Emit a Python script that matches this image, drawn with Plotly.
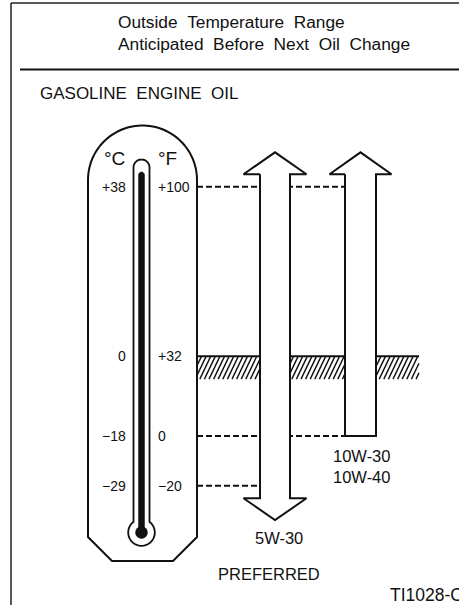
import numpy as np
import plotly.graph_objects as go

# ---------------- data ----------------
title_lines = ["Outside Temperature Range", "Anticipated Before Next Oil Change"]
section_title = "GASOLINE ENGINE OIL"
fahrenheit_levels = [100, 32, 0, -20]
fahrenheit_labels = ["+100", "+32", "0", "\u221220"]
celsius_labels = ["+38", "0", "\u221218", "\u221229"]
oil_grades = ["5W-30", "10W-30<br>10W-40"]
grade_low_f = [-20, 0]
grade_high_f = [100, 100]
grade_open_low = [True, False]
grade_open_high = [True, True]
freezing_f = 32
preferred_label = "PREFERRED"
figure_id = "TI1028-C"

# ---------------- layout constants ----------------
W, H = 459, 605
PX_PER_F = 2.492          # vertical scale of the temperature axis
ZERO_PX = 435.9           # pixel row of 0 °F
Y_RANGE = [(ZERO_PX - H) / PX_PER_F, ZERO_PX / PX_PER_F]
FONT = "Liberation Sans, Arial, Helvetica, sans-serif"
INK = "#111111"
SP = "\u00a0\u00a0"

THERMO_RIGHT = 197
grade_cx = [275, 360.5]
grade_hw = [15, 15.5]
grade_head_hw = [31.5, 31]
HEAD_F = 8.8
EXT_F = 5.0


def yp(py):
    return 1 - py / H


def path_of(points, close=True):
    s = "M " + " L ".join(f"{x:.2f},{yp(y):.5f}" for x, y in points)
    return s + (" Z" if close else "")


def arc(cx, cy, r, t0, t1, n=40):
    ts = np.linspace(np.radians(t0), np.radians(t1), n)
    return [(cx + r * np.cos(t), cy - r * np.sin(t)) for t in ts]


shapes = []
# frame
shapes.append(dict(type="line", xref="x", yref="paper", x0=11, x1=W, y0=yp(3), y1=yp(3),
                   line=dict(color="#222", width=1.5)))
shapes.append(dict(type="line", xref="x", yref="paper", x0=11, x1=11, y0=yp(3), y1=yp(H),
                   line=dict(color="#222", width=1.5)))
shapes.append(dict(type="line", xref="x", yref="paper", x0=20, x1=W, y0=yp(69.5), y1=yp(69.5),
                   line=dict(color=INK, width=2)))

# thermometer body
body = [(88, 537)] + arc(142.5, 180, 54.5, 180, 0, 60) + [(197, 537), (173, 561), (112, 561)]
shapes.append(dict(type="path", xref="x", yref="paper", path=path_of(body),
                   line=dict(color=INK, width=2), fillcolor="white"))
# tube + bulb outline
tcx, tr, tcy = 141.5, 8, 167.5
bcy, br = 532.5, 13.3
dj = np.sqrt(br ** 2 - tr ** 2)
tj = np.degrees(np.arctan2(dj, tr))
tube = [(tcx - tr, bcy - dj)] + arc(tcx, tcy, tr, 180, 0, 20) + arc(tcx, bcy, br, tj, -180 - tj, 50)
shapes.append(dict(type="path", xref="x", yref="paper", path=path_of(tube),
                   line=dict(color=INK, width=1.8), fillcolor="white"))
# mercury column
col = [(tcx - 3, 530)] + arc(tcx, 175, 3, 180, 0, 10) + [(tcx + 3, 530)]
shapes.append(dict(type="path", xref="x", yref="paper", path=path_of(col),
                   line=dict(color=INK, width=0.5), fillcolor=INK))
shapes.append(dict(type="circle", xref="x", yref="paper", x0=tcx - 6, x1=tcx + 6,
                   y0=yp(bcy + 6), y1=yp(bcy - 6), line=dict(color=INK, width=0.5), fillcolor=INK))

fig = go.Figure()

# freezing band (hatched with diagonal strokes)
band_depth_f = 9.2
hatch_right = 419
hatch_step = 4.6
hatch_dx = 11.0
hx, hy = [], []
s = THERMO_RIGHT - hatch_dx
while s < hatch_right:
    t0 = max(0.0, (THERMO_RIGHT - s) / hatch_dx)
    t1 = min(1.0, (hatch_right - s) / hatch_dx)
    if t1 > t0:
        for t in (t0, t1):
            hx.append(s + hatch_dx * t)
            hy.append(freezing_f - band_depth_f + band_depth_f * t)
        hx.append(None)
        hy.append(None)
    s += hatch_step
fig.add_trace(go.Scatter(x=hx, y=hy, mode="lines", line=dict(color=INK, width=1.4),
                         hoverinfo="skip"))
fig.add_trace(go.Scatter(x=[THERMO_RIGHT, hatch_right], y=[freezing_f, freezing_f], mode="lines",
                         line=dict(color=INK, width=2), hoverinfo="skip"))

# dashed guide lines from thermometer to each grade bound
bounds = {}
for i in range(len(oil_grades)):
    for v in (grade_low_f[i], grade_high_f[i]):
        bounds[v] = max(bounds.get(v, 0), grade_cx[i] - grade_hw[i])
for v, xe in bounds.items():
    fig.add_trace(go.Scatter(x=[THERMO_RIGHT, xe], y=[v, v], mode="lines",
                             line=dict(color=INK, width=2, dash="6px,3px"), hoverinfo="skip"))

# range arrows
for i in range(len(oil_grades)):
    cx, hw, hh = grade_cx[i], grade_hw[i], grade_head_hw[i]
    lo, hi = grade_low_f[i], grade_high_f[i]
    xs, ys = [], []
    if grade_open_high[i]:
        top = hi + EXT_F
        xs += [cx - hw, cx - hh, cx, cx + hh, cx + hw]
        ys += [top, top, top + HEAD_F, top, top]
    else:
        xs += [cx - hw, cx + hw]
        ys += [hi, hi]
    if grade_open_low[i]:
        bot = lo - EXT_F
        xs += [cx + hw, cx + hh, cx, cx - hh, cx - hw]
        ys += [bot, bot, bot - HEAD_F, bot, bot]
    else:
        xs += [cx + hw, cx - hw]
        ys += [lo, lo]
    xs.append(xs[0])
    ys.append(ys[0])
    fig.add_trace(go.Scatter(x=xs, y=ys, mode="lines", fill="toself", fillcolor="white",
                             line=dict(color=INK, width=2), hoverinfo="skip"))

ann = []


def text(x, y, s, size, xanchor="left", yref="paper"):
    ann.append(dict(x=x, y=y, xref="x", yref=yref, text=s, showarrow=False,
                    xanchor=xanchor, yanchor="middle",
                    font=dict(family=FONT, size=size, color=INK)))


text(116, yp(22), SP.join(title_lines[0].split(" ")), 17.3)
text(116, yp(43.5), SP.join(title_lines[1].split(" ")), 17.3)
text(38, yp(93), SP.join(section_title.split(" ")), 17)
text(114, yp(158.5), "\u00b0C", 19, "center")
text(167, yp(158.5), "\u00b0F", 19, "center")
for v, fl, cl in zip(fahrenheit_levels, fahrenheit_labels, celsius_labels):
    text(128, v, cl, 14, "right", "y")
    text(155.5, v, fl, 14, "left", "y")
text(361, yp(466), oil_grades[1], 16.5, "center")
text(279, yp(538), oil_grades[0], 16.5, "center")
text(269, yp(574), preferred_label, 16.5, "center")
text(388, yp(595), figure_id, 17.5, "left")

fig.update_layout(
    width=W, height=H, margin=dict(l=0, r=0, t=0, b=0),
    paper_bgcolor="white", plot_bgcolor="white", showlegend=False,
    xaxis=dict(range=[0, W], visible=False, fixedrange=True),
    yaxis=dict(range=Y_RANGE, visible=False, fixedrange=True),
    shapes=shapes, annotations=ann,
)
fig.write_html("out.html", config={"displayModeBar": False},
               post_script="document.body.style.margin='0';document.body.style.overflow='hidden';")
